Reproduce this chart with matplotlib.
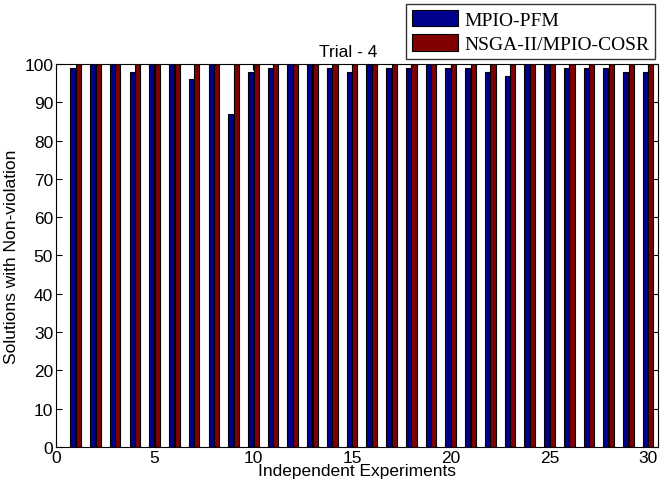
import numpy as np
import matplotlib.pyplot as plt

experiments = np.arange(1, 31)
mpio_pfm = [99, 100, 100, 98, 100, 100, 96, 100, 87, 98,
            99, 100, 100, 99, 98, 100, 99, 99, 100, 99,
            99, 98, 97, 100, 100, 99, 99, 99, 98, 98]
nsga_cosr = [100] * 30

plt.rcParams['font.family'] = 'Liberation Sans'

fig = plt.figure(figsize=(6.66, 4.89), dpi=100)
ax = fig.add_axes([0.084, 0.084, 0.904, 0.783])

w = 0.26
ax.bar(experiments - 0.14, mpio_pfm, width=w, color='#00008f', edgecolor='black',
       linewidth=0.8, label='MPIO-PFM')
ax.bar(experiments + 0.14, nsga_cosr, width=w, color='#800000', edgecolor='black',
       linewidth=0.8, label='NSGA-II/MPIO-COSR')

ax.set_xlim(0, 30.5)
ax.set_ylim(0, 100)
ax.set_xticks(range(0, 31, 5))
ax.set_yticks(range(0, 101, 10))
ax.tick_params(direction='in', top=True, right=True, labelsize=12.5, length=4, pad=2)

ax.set_xlabel('Independent Experiments', fontsize=12.5, labelpad=-1)
ax.set_ylabel('Solutions with Non-violation', fontsize=12.5, labelpad=4)
ax.set_title('Trial - 4', fontsize=12.5, x=0.485, pad=6)

leg = ax.legend(loc='upper right', bbox_to_anchor=(0.995, 1.157), fancybox=False,
                edgecolor='black', prop={'family': 'Liberation Serif', 'size': 14},
                handlelength=2.4, handleheight=0.9, borderaxespad=0, borderpad=0.3,
                labelspacing=0.3, handletextpad=0.3)
leg.get_frame().set_linewidth(1.0)

fig.savefig('out.png', dpi=100)
